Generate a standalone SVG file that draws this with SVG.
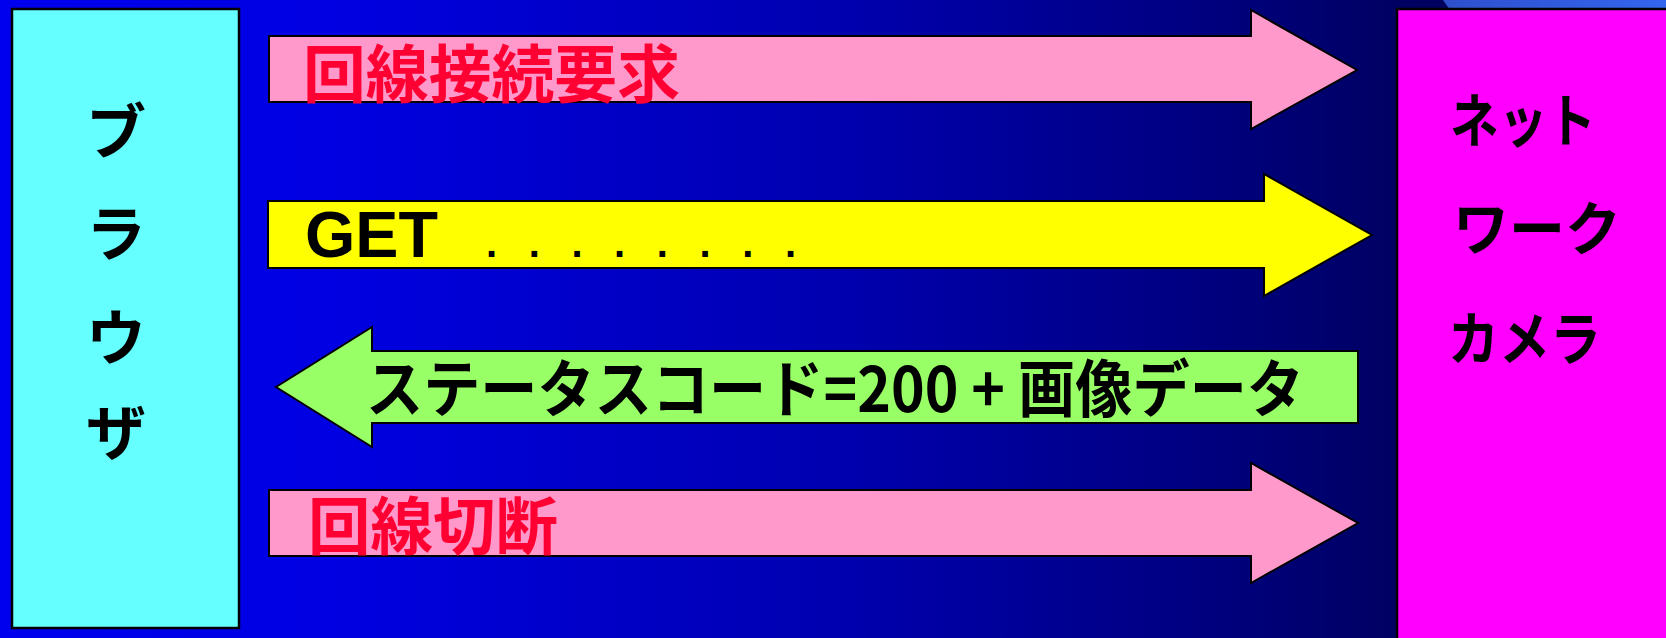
<svg xmlns="http://www.w3.org/2000/svg" width="1666" height="638" viewBox="0 0 1666 638">
<defs>
<linearGradient id="bg" x1="0" y1="0" x2="1666" y2="0" gradientUnits="userSpaceOnUse">
<stop offset="0" stop-color="#0000EE"/>
<stop offset="0.2" stop-color="#0000E2"/>
<stop offset="0.5" stop-color="#0000B0"/>
<stop offset="0.72" stop-color="#000080"/>
<stop offset="0.85" stop-color="#000060"/>
<stop offset="1" stop-color="#000050"/>
</linearGradient>
<linearGradient id="corner" x1="1443" y1="0" x2="1666" y2="0" gradientUnits="userSpaceOnUse">
<stop offset="0" stop-color="#2E4FCC"/>
<stop offset="1" stop-color="#3366EE"/>
</linearGradient>
<style>
.box{stroke:#000;stroke-width:2.5}
.arrow{stroke:#000;stroke-width:2}
.jp{font-family:"Noto Sans CJK JP","Noto Sans CJK SC",sans-serif;font-weight:700}
.lat{font-family:"Liberation Sans",Arial,sans-serif;font-weight:700}
.red{fill:#FF0033}
.blk{fill:#000}
</style>
</defs>
<rect x="0" y="0" width="1666" height="638" fill="url(#bg)"/>
<polygon points="1443,0 1666,0 1666,10 1450,10" fill="url(#corner)"/>

<g id="browser">
<rect class="box" x="12" y="9" width="227" height="619" fill="#66FFFF"/>
<text class="jp blk" font-size="60" text-anchor="middle" x="116" y="154">ブ</text>
<text class="jp blk" font-size="60" text-anchor="middle" x="116" y="256">ラ</text>
<text class="jp blk" font-size="60" text-anchor="middle" x="116" y="360">ウ</text>
<text class="jp blk" font-size="60" text-anchor="middle" x="116" y="455">ザ</text>
</g>

<g id="camera">
<rect class="box" x="1397" y="9" width="285" height="645" fill="#FF00FF"/>
<text class="jp blk" font-size="58" x="1450" y="142" textLength="146" lengthAdjust="spacingAndGlyphs">ネット</text>
<text class="jp blk" font-size="58" x="1453" y="250" textLength="168" lengthAdjust="spacingAndGlyphs">ワーク</text>
<text class="jp blk" font-size="58" x="1448" y="360" textLength="153" lengthAdjust="spacingAndGlyphs">カメラ</text>
</g>

<g id="connectors">
<g id="connect-request">
<polygon class="arrow" fill="#FF99CC" points="269,36 1251,36 1251,10 1357,70 1251,129 1251,102 269,102"/>
<text class="jp red" font-size="63" x="303" y="97" textLength="377" lengthAdjust="spacingAndGlyphs">回線接続要求</text>
</g>
<g id="get-request">
<polygon class="arrow" fill="#FFFF00" points="268,201 1264,201 1264,174 1372,235 1264,296 1264,268 268,268"/>
<text class="lat blk" font-size="64" x="305" y="257" textLength="133" lengthAdjust="spacingAndGlyphs">GET</text>
<text class="lat blk" font-size="40" x="486" y="257" textLength="310" lengthAdjust="spacing">. . . . . . . .</text>
</g>
<g id="response">
<polygon class="arrow" fill="#99FF66" points="1358,351 372,351 372,327 276,387 372,447 372,423 1358,423"/>
<text class="jp blk" font-size="62" x="366" y="412" textLength="938" lengthAdjust="spacingAndGlyphs">ステータスコード=200 + 画像データ</text>
</g>
<g id="disconnect">
<polygon class="arrow" fill="#FF99CC" points="269,490 1251,490 1251,463 1358,523 1251,583 1251,556 269,556"/>
<text class="jp red" font-size="63" x="308" y="549" textLength="250" lengthAdjust="spacingAndGlyphs">回線切断</text>
</g>
</g>
</svg>
